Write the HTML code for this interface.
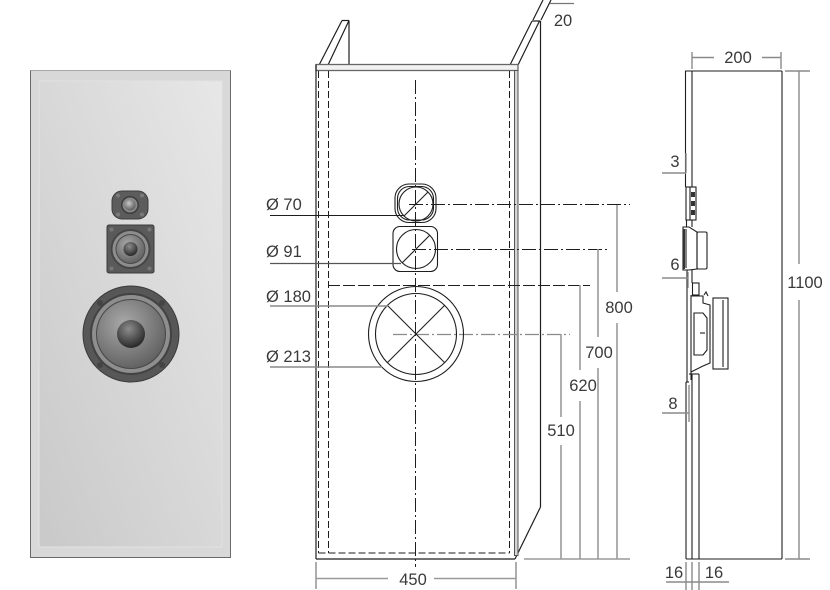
<!DOCTYPE html>
<html><head><meta charset="utf-8">
<style>
html,body{margin:0;padding:0;background:#fff;}
svg{display:block;}
text{font-family:"Liberation Sans",sans-serif;font-size:16.5px;fill:#3a3a3a;}
</style></head><body>
<svg width="830" height="590" viewBox="0 0 830 590" xmlns="http://www.w3.org/2000/svg">
<defs>
<linearGradient id="pan" x1="1" y1="0" x2="0" y2="1">
<stop offset="0" stop-color="#e7e7e7"/>
<stop offset="1" stop-color="#c9c9c9"/>
</linearGradient>
<radialGradient id="cone" cx="0.4" cy="0.35" r="0.75">
<stop offset="0" stop-color="#a9a9a9"/>
<stop offset="1" stop-color="#5a5a5a"/>
</radialGradient>
<radialGradient id="cap" cx="0.42" cy="0.32" r="0.7">
<stop offset="0" stop-color="#8c8c8c"/>
<stop offset="1" stop-color="#262626"/>
</radialGradient>
<radialGradient id="dome" cx="0.4" cy="0.35" r="0.7">
<stop offset="0" stop-color="#c8c8c8"/>
<stop offset="1" stop-color="#555"/>
</radialGradient>
</defs>

<!-- LEFT PANEL -->
<rect x="30.5" y="70.5" width="200" height="487" fill="#d8d8d8" stroke="#6a6a6a"/>
<line x1="30.5" y1="70.5" x2="230.5" y2="70.5" stroke="#a8a8a8"/>
<rect x="39" y="81" width="183" height="466" fill="url(#pan)" stroke="#e2e2e2"/>

<!-- tweeter -->
<rect x="112" y="191" width="36" height="28" rx="10" ry="10" fill="#5c5c5c" stroke="#3c3c3c"/>
<circle cx="118" cy="195.5" r="2" fill="#7a7a7a"/>
<circle cx="142" cy="195.5" r="2" fill="#7a7a7a"/>
<circle cx="118" cy="214.5" r="2" fill="#7a7a7a"/>
<circle cx="142" cy="214.5" r="2" fill="#7a7a7a"/>
<circle cx="130" cy="205" r="9" fill="#3c3c3c"/>
<circle cx="130" cy="205" r="7.5" fill="#888"/>
<circle cx="130" cy="205" r="5.5" fill="url(#dome)"/>

<!-- mid -->
<rect x="107" y="225" width="47" height="48" rx="2" fill="#5a5a5a" stroke="#3c3c3c"/>
<circle cx="111.5" cy="229.5" r="2" fill="#777"/>
<circle cx="149.5" cy="229.5" r="2" fill="#777"/>
<circle cx="111.5" cy="268.5" r="2" fill="#777"/>
<circle cx="149.5" cy="268.5" r="2" fill="#777"/>
<circle cx="130.5" cy="249" r="20" fill="#454545"/>
<circle cx="130.5" cy="249" r="18" fill="#8d8d8d"/>
<circle cx="130.5" cy="249" r="15" fill="#4a4a4a"/>
<circle cx="130.5" cy="249" r="14" fill="url(#cone)"/>
<circle cx="130.5" cy="249" r="7" fill="url(#cap)"/>

<!-- woofer -->
<circle cx="131" cy="334" r="48" fill="#575757" stroke="#3a3a3a"/>
<circle cx="100" cy="303" r="3" fill="#444"/>
<circle cx="162" cy="303" r="3" fill="#444"/>
<circle cx="100" cy="365" r="3" fill="#444"/>
<circle cx="162" cy="365" r="3" fill="#444"/>
<circle cx="131" cy="334" r="41" fill="#424242"/>
<circle cx="131" cy="334" r="39" fill="#8e8e8e"/>
<circle cx="131" cy="334" r="35" fill="#474747"/>
<circle cx="131" cy="334" r="34" fill="url(#cone)"/>
<circle cx="131" cy="334" r="14" fill="url(#cap)"/>

<!-- MIDDLE DRAWING -->
<g fill="none" stroke="#1e1e1e" stroke-width="1.2">
  <!-- left side panel -->
  <line x1="316.5" y1="70" x2="342" y2="20.5"/>
  <line x1="328" y1="65" x2="349" y2="20.5"/>
  <line x1="342" y1="20.5" x2="349" y2="20.5"/>
  <line x1="349" y1="20.5" x2="349" y2="64"/>
  <!-- right side panel -->
  <line x1="510" y1="65" x2="532" y2="21"/>
  <line x1="518" y1="65" x2="539.5" y2="21"/>
  <line x1="532" y1="21" x2="540.5" y2="21"/>
  <line x1="540.5" y1="21" x2="540.5" y2="507"/>
  <line x1="540.5" y1="507" x2="515" y2="559"/>
  <!-- 20 extension -->
  <line x1="533" y1="20" x2="543" y2="0"/>
  <line x1="541" y1="20" x2="551" y2="0"/>
  <line x1="550" y1="3.5" x2="574" y2="3.5" stroke="#777"/>
</g>
<!-- front top band -->
<rect x="316" y="64.5" width="202" height="6" fill="#f2f2f2" stroke="#666" stroke-width="1.3"/>
<!-- right strip -->
<rect x="514.5" y="70.5" width="3.5" height="485" fill="#d4d4d4" stroke="#555" stroke-width="1"/>
<g fill="none" stroke="#1e1e1e" stroke-width="1.2">
  <line x1="316" y1="64.5" x2="316" y2="559"/>
  <line x1="316" y1="559" x2="515" y2="559"/>
</g>
<!-- dashed internal -->
<g fill="none" stroke="#1e1e1e" stroke-width="1" stroke-dasharray="7 3">
  <line x1="318.5" y1="71" x2="318.5" y2="553"/>
  <line x1="328.5" y1="71" x2="328.5" y2="553"/>
  <line x1="509.5" y1="71" x2="509.5" y2="553"/>
  <line x1="318.5" y1="553" x2="509.5" y2="553"/>
  <line x1="328" y1="285.5" x2="590" y2="285.5" stroke-dasharray="12 3"/>
</g>
<!-- centre line -->
<g fill="none" stroke="#1e1e1e" stroke-width="1" stroke-dasharray="14 3 2 3">
  <line x1="415.5" y1="80" x2="415.5" y2="567"/>
  <line x1="409" y1="204.5" x2="630" y2="204.5"/>
  <line x1="412" y1="249.5" x2="607" y2="249.5"/>
  <line x1="393" y1="334.5" x2="570" y2="334.5" stroke="#8a8a8a" stroke-width="1.3"/>
</g>

<!-- drivers in middle -->
<g fill="none" stroke="#1e1e1e" stroke-width="1.1">
  <rect x="395" y="184" width="41" height="38.5" rx="14" ry="14"/>
  <rect x="397.5" y="186.5" width="36" height="33.5" rx="12" ry="12"/>
  <circle cx="416" cy="204" r="17"/>
  <line x1="404" y1="216" x2="428" y2="192"/>
  <rect x="393" y="226.5" width="44.5" height="45" rx="7" ry="7"/>
  <circle cx="416" cy="249" r="19.5"/>
  <line x1="402" y1="263" x2="430" y2="235"/>
  <circle cx="416" cy="334" r="47.5"/>
  <circle cx="416" cy="334" r="40.5"/>
  <line x1="387.5" y1="305.5" x2="444.5" y2="362.5"/>
  <line x1="444.5" y1="305.5" x2="387.5" y2="362.5"/>
</g>
<!-- leaders -->
<line x1="270" y1="215.5" x2="404" y2="215.5" stroke="#1e1e1e" stroke-width="1.1"/>
<line x1="270" y1="263.5" x2="401" y2="263.5" stroke="#555" stroke-width="1.2"/>
<line x1="270" y1="306" x2="388" y2="306" stroke="#8a8a8a" stroke-width="1.4"/>
<line x1="270" y1="367" x2="382" y2="367" stroke="#8a8a8a" stroke-width="1.4"/>
<text x="266" y="210">Ø 70</text>
<text x="266" y="257">Ø 91</text>
<text x="266" y="302">Ø 180</text>
<text x="266" y="362">Ø 213</text>

<!-- vertical dims -->
<g stroke="#9a9a9a" stroke-width="1.6" fill="none">
  <line x1="617" y1="205" x2="617" y2="292"/>
  <line x1="617" y1="323" x2="617" y2="559"/>
  <line x1="598" y1="249" x2="598" y2="337"/>
  <line x1="598" y1="368" x2="598" y2="559"/>
  <line x1="580" y1="285" x2="580" y2="370"/>
  <line x1="580" y1="401" x2="580" y2="559"/>
  <line x1="561" y1="334" x2="561" y2="417"/>
  <line x1="561" y1="445" x2="561" y2="559"/>
  <line x1="524" y1="559" x2="630" y2="559"/>
  <!-- 450 -->
  <line x1="316" y1="562" x2="316" y2="589"/>
  <line x1="516" y1="562" x2="516" y2="589"/>
  <line x1="316" y1="578.5" x2="388" y2="578.5"/>
  <line x1="434" y1="578.5" x2="516" y2="578.5"/>
</g>
<text x="619" y="313" text-anchor="middle">800</text>
<text x="599" y="358" text-anchor="middle">700</text>
<text x="583" y="391" text-anchor="middle">620</text>
<text x="561" y="436" text-anchor="middle">510</text>
<text x="413" y="585" text-anchor="middle">450</text>
<text x="563" y="26" text-anchor="middle">20</text>

<!-- SIDE VIEW -->
<g fill="none" stroke="#1e1e1e" stroke-width="1.1">
  <line x1="685" y1="71" x2="782" y2="71"/>
  <line x1="782" y1="71" x2="782" y2="559"/>
  <line x1="686" y1="559" x2="782" y2="559"/>
  <line x1="685.5" y1="71" x2="685.5" y2="187"/>
  <line x1="692" y1="71" x2="692" y2="187"/>
  <!-- tweeter -->
  <rect x="686" y="187" width="10" height="33"/>
  <line x1="690" y1="187" x2="690" y2="220"/>
  <line x1="686.5" y1="220" x2="686.5" y2="227"/>
  <line x1="692" y1="220" x2="692" y2="227"/>
  <!-- mid -->
  <polygon points="683,227 689,227 697,232 697,269 689,270 683,270"/>
  <line x1="686" y1="229" x2="686" y2="268"/>
  <rect x="697" y="232" width="10" height="37" rx="1.5"/>
  <line x1="687" y1="270" x2="687" y2="382"/>
  <line x1="692" y1="270" x2="692" y2="283"/>
  <rect x="692.5" y="283" width="6.5" height="12"/>
  <!-- woofer -->
  <polyline points="691,295 691,380"/>
  <polyline points="691,296 703,296 703,303 710,305 710,363 703,366 691,372"/>
  <polygon points="694,313 703,313 707,318 707,350 703,355 694,355"/>
  <line x1="700" y1="333" x2="705" y2="333"/>
  <rect x="713" y="298" width="15" height="71"/>
  <line x1="723" y1="300" x2="723" y2="367"/>
  <polyline points="704,295 706,292 708,296"/>
  <!-- lower -->
  <line x1="686" y1="382" x2="686" y2="559"/>
  <line x1="686" y1="382" x2="689" y2="382"/>
  <line x1="692" y1="374" x2="692" y2="559"/>
  <line x1="699" y1="374" x2="699" y2="559"/>
  <line x1="689" y1="374" x2="699" y2="374"/>
</g>
<g fill="#333">
  <rect x="691" y="192" width="4" height="5"/>
  <rect x="691" y="201" width="4" height="5"/>
  <rect x="691" y="210" width="4" height="5"/>
  <rect x="683" y="229" width="2" height="40"/>
</g>
<!-- side dims -->
<g stroke="#8a8a8a" stroke-width="1.4" fill="none">
  <line x1="692" y1="52" x2="692" y2="69"/>
  <line x1="781" y1="52" x2="781" y2="69"/>
  <line x1="692" y1="57.5" x2="714" y2="57.5"/>
  <line x1="762" y1="57.5" x2="781" y2="57.5"/>
  <line x1="785" y1="71" x2="810" y2="71"/>
  <line x1="785" y1="559" x2="810" y2="559"/>
  <line x1="799" y1="71" x2="799" y2="264"/>
  <line x1="799" y1="300" x2="799" y2="559"/>
  <line x1="662" y1="173" x2="686" y2="173"/>
  <line x1="686" y1="153" x2="686" y2="173"/>
  <line x1="662" y1="278" x2="688" y2="278"/>
  <line x1="688" y1="272" x2="688" y2="288"/>
  <line x1="662" y1="413" x2="689" y2="413"/>
  <line x1="689" y1="385" x2="689" y2="422"/>
  <line x1="686" y1="562" x2="686" y2="590"/>
  <line x1="692" y1="562" x2="692" y2="590"/>
  <line x1="699" y1="562" x2="699" y2="590"/>
  <line x1="666" y1="582" x2="729" y2="582"/>
</g>
<text x="738" y="63" text-anchor="middle">200</text>
<text x="805" y="288" text-anchor="middle">1100</text>
<text x="675" y="167" text-anchor="middle">3</text>
<text x="675" y="270" text-anchor="middle">6</text>
<text x="673" y="409" text-anchor="middle">8</text>
<text x="674" y="578" text-anchor="middle">16</text>
<text x="714" y="578" text-anchor="middle">16</text>
</svg>
</body></html>
